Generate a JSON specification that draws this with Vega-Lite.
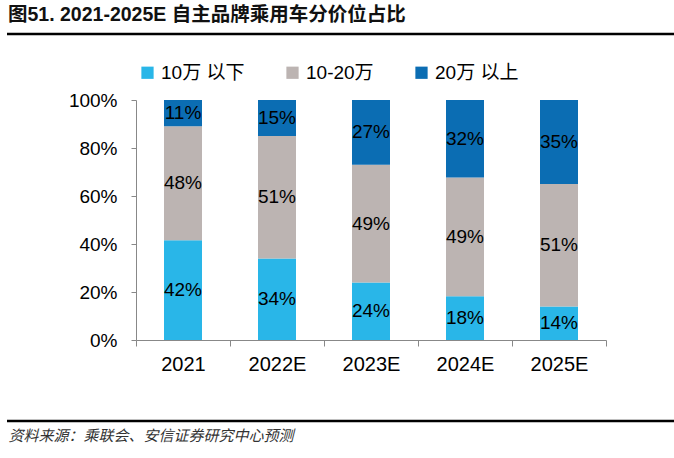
{
  "$schema": "https://vega.github.io/schema/vega-lite/v6.json",
  "width": 470,
  "height": 240,
  "autosize": {"type": "none"},
  "padding": {"left": 136, "top": 100, "right": 68, "bottom": 118},
  "config": {"view": {"stroke": null}, "font": "Liberation Sans, Noto Sans CJK SC"},
  "title": {
    "text": "图51. 2021-2025E 自主品牌乘用车分价位占比",
    "anchor": "start",
    "frame": "group",
    "dx": -128,
    "offset": 7,
    "fontSize": 19.5,
    "fontWeight": "bold",
    "color": "#111111",
    "font": "Liberation Sans, Noto Sans CJK SC"
  },
  "datasets": {
    "shares": [
      {"year": "2021", "seg": "10万 以下", "o": 1, "v": 0.42},
      {"year": "2021", "seg": "10-20万", "o": 2, "v": 0.48},
      {"year": "2021", "seg": "20万 以上", "o": 3, "v": 0.11},
      {"year": "2022E", "seg": "10万 以下", "o": 1, "v": 0.34},
      {"year": "2022E", "seg": "10-20万", "o": 2, "v": 0.51},
      {"year": "2022E", "seg": "20万 以上", "o": 3, "v": 0.15},
      {"year": "2023E", "seg": "10万 以下", "o": 1, "v": 0.24},
      {"year": "2023E", "seg": "10-20万", "o": 2, "v": 0.49},
      {"year": "2023E", "seg": "20万 以上", "o": 3, "v": 0.27},
      {"year": "2024E", "seg": "10万 以下", "o": 1, "v": 0.18},
      {"year": "2024E", "seg": "10-20万", "o": 2, "v": 0.49},
      {"year": "2024E", "seg": "20万 以上", "o": 3, "v": 0.32},
      {"year": "2025E", "seg": "10万 以下", "o": 1, "v": 0.14},
      {"year": "2025E", "seg": "10-20万", "o": 2, "v": 0.51},
      {"year": "2025E", "seg": "20万 以上", "o": 3, "v": 0.35}
    ]
  },
  "layer": [
    {
      "data": {"name": "shares"},
      "mark": {"type": "bar", "size": 38},
      "encoding": {
        "x": {
          "field": "year",
          "type": "nominal",
          "sort": null,
          "scale": {"paddingInner": 0, "paddingOuter": 0},
          "axis": {
            "title": "资料来源：乘联会、安信证券研究中心预测",
            "titleX": -128,
            "titleY": 95,
            "titleAlign": "left",
            "titleBaseline": "middle",
            "titleFontSize": 15,
            "titleFontStyle": "italic",
            "titleFontWeight": "normal",
            "titleColor": "#333333",
            "labelAngle": 0,
            "labelFontSize": 20,
            "labelColor": "#000000",
            "labelPadding": 8,
            "tickSize": 6,
            "tickColor": "#888888",
            "domainColor": "#888888",
            "tickBand": "extent"
          }
        },
        "y": {
          "field": "v",
          "type": "quantitative",
          "stack": "normalize",
          "scale": {"domain": [0, 1]},
          "axis": {
            "title": null,
            "values": [0, 0.2, 0.4, 0.6, 0.8, 1],
            "format": ".0%",
            "labelFontSize": 19,
            "labelColor": "#000000",
            "labelPadding": 14,
            "tickSize": 5,
            "tickColor": "#888888",
            "domainColor": "#888888",
            "grid": false
          }
        },
        "color": {
          "field": "seg",
          "type": "nominal",
          "scale": {
            "domain": ["10万 以下", "10-20万", "20万 以上"],
            "range": ["#29B6E8", "#BCB4B2", "#0B6DB3"]
          },
          "legend": {
            "title": null,
            "orient": "none",
            "legendX": 2,
            "legendY": -37,
            "direction": "horizontal",
            "symbolType": "square",
            "symbolSize": 150,
            "symbolStrokeWidth": 0,
            "labelFontSize": 19,
            "labelColor": "#000000",
            "labelOffset": 4,
            "columnPadding": 38
          }
        },
        "order": {"field": "o"}
      }
    },
    {
      "data": {"name": "shares"},
      "mark": {"type": "text", "fontSize": 19, "color": "#000000", "baseline": "middle"},
      "encoding": {
        "x": {"field": "year", "type": "nominal", "sort": null},
        "y": {"field": "v", "type": "quantitative", "stack": "normalize", "bandPosition": 0.5},
        "detail": {"field": "seg"},
        "order": {"field": "o"},
        "text": {"field": "v", "type": "quantitative", "format": ".0%"}
      }
    },
    {
      "data": {"values": [{}]},
      "mark": {"type": "rule", "color": "#000000", "strokeWidth": 2.5},
      "encoding": {"x": {"value": -129}, "x2": {"value": 538}, "y": {"value": -66}}
    },
    {
      "data": {"values": [{}]},
      "mark": {"type": "rule", "color": "#000000", "strokeWidth": 2.5},
      "encoding": {"x": {"value": -129}, "x2": {"value": 538}, "y": {"value": 321}}
    }
  ]
}
